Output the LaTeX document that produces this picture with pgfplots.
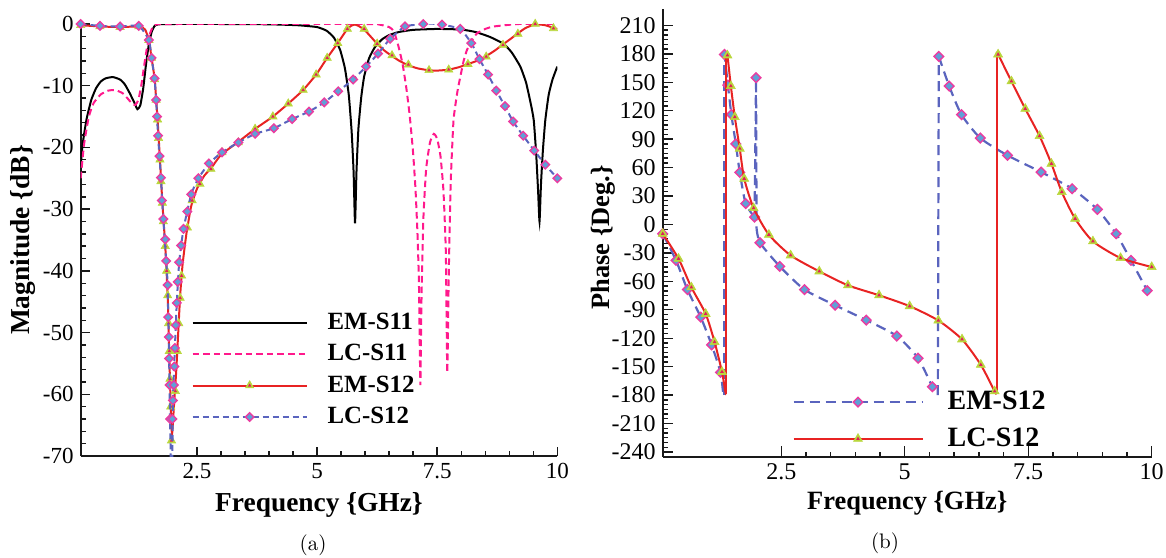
\documentclass[border=0pt]{standalone}
\usepackage{fontspec}
\usepackage{pgfplots}
\usepackage{pgfplotstable}
\pgfplotsset{compat=1.18}
\newfontfamily\tnr{Liberation Serif}

\definecolor{lcpink}{RGB}{255,25,140}
\definecolor{emred}{RGB}{232,35,35}
\definecolor{lcblue}{RGB}{90,100,190}
\definecolor{dfill}{RGB}{95,160,215}
\definecolor{dedge}{RGB}{235,60,160}
\definecolor{tfill}{RGB}{185,215,60}
\definecolor{tin}{RGB}{225,30,90}

% green triangle with a small red triangle inside
\pgfdeclareplotmark{gtri}{%
  \pgfsetlinewidth{0.3pt}%
  \pgfsetfillcolor{tfill}\pgfsetstrokecolor{tfill}%
  \pgfpathmoveto{\pgfpointpolar{90}{\pgfplotmarksize}}%
  \pgfpathlineto{\pgfpointpolar{210}{\pgfplotmarksize}}%
  \pgfpathlineto{\pgfpointpolar{330}{\pgfplotmarksize}}%
  \pgfpathclose\pgfusepathqfillstroke
  \pgfsetfillcolor{tin}%
  \pgfpathmoveto{\pgfpointpolar{90}{0.42\pgfplotmarksize}}%
  \pgfpathlineto{\pgfpointpolar{210}{0.42\pgfplotmarksize}}%
  \pgfpathlineto{\pgfpointpolar{330}{0.42\pgfplotmarksize}}%
  \pgfpathclose\pgfusepathqfill
}

% ---------- (a) magnitude ----------
\pgfplotstableread{
x y
0.08 -23
0.12 -19.5
0.2 -15.5
0.3 -12.3
0.4 -10.4
0.5 -9.3
0.6 -8.8
0.75 -8.6
0.9 -9.0
1.0 -9.8
1.1 -11.2
1.2 -12.8
1.26 -13.8
1.32 -13.2
1.38 -10.5
1.44 -6.5
1.5 -3.2
1.56 -1.2
1.62 -0.3
1.7 -0.05
2.0 0
3.0 0
4.0 -0.05
4.6 -0.2
5.0 -0.5
5.2 -1.1
5.35 -2.2
5.48 -4.2
5.58 -7.2
5.66 -11.5
5.72 -17.5
5.76 -24
5.79 -32.3
5.82 -24
5.86 -17
5.92 -11.8
5.98 -8.5
6.08 -5.6
6.2 -3.8
6.35 -2.5
6.5 -1.8
6.7 -1.3
7.0 -0.95
7.5 -0.8
8.0 -0.9
8.3 -1.3
8.6 -2.1
8.88 -3.2
9.05 -4.6
9.23 -6.9
9.35 -9.5
9.45 -13
9.51 -15.6
9.56 -21
9.6 -27
9.63 -32
9.66 -26
9.7 -20.5
9.75 -15.6
9.82 -11.5
9.9 -9
10.0 -6.9
}\emsA

\pgfplotstableread{
x y
0.08 -25
0.15 -19.5
0.25 -15
0.35 -12.8
0.5 -11.4
0.65 -10.8
0.8 -10.7
0.95 -11.2
1.05 -12.0
1.15 -12.9
1.22 -13.1
1.28 -12.3
1.34 -10
1.4 -6.8
1.46 -3.8
1.52 -1.6
1.58 -0.5
1.66 -0.05
2.0 0
6.0 0
6.3 -0.1
6.5 -0.5
6.6 -1.2
6.7 -3.8
6.78 -6.5
6.86 -10.5
6.93 -15
7.0 -21
7.05 -27
7.09 -34
7.12 -42
7.15 -58.5
7.17 -46
7.21 -32
7.27 -23.5
7.35 -19.2
7.43 -17.8
7.5 -18.6
7.57 -21.5
7.63 -27
7.68 -37
7.71 -56.5
7.74 -41
7.78 -26
7.84 -15.6
7.92 -11
7.98 -8.6
8.05 -6
8.12 -4.2
8.22 -2.7
8.33 -1.5
8.5 -0.8
8.68 -0.4
9.2 0
10 0
}\lcsA

\pgfplotstableread{
x y
0.08 -0.2
0.5 -0.4
0.9 -0.5
1.3 -0.4
1.42 -0.9
1.5 -2.6
1.555 -5.5
1.62 -9.0
1.68 -15.5
1.73 -22
1.78 -29
1.84 -36
1.89 -44
1.92 -52.5
1.95 -61
1.98 -66.5
2.02 -62
2.07 -56
2.11 -50
2.15 -44
2.2 -39
2.28 -34
2.38 -29.5
2.5 -26.7
2.65 -24.6
2.8 -23.3
3.0 -21.2
3.36 -19.1
3.71 -17.0
4.08 -15.0
4.40 -12.9
4.71 -10.7
4.98 -8.2
5.21 -5.5
5.43 -3.1
5.63 -0.8
5.72 -0.25
5.79 -0.1
5.86 -0.3
5.98 -0.9
6.1 -1.9
6.25 -3.2
6.4 -4.3
6.56 -5.2
6.72 -6
6.90 -6.7
7.1 -7.2
7.33 -7.5
7.5 -7.55
7.74 -7.4
7.95 -7.0
8.14 -6.5
8.35 -5.9
8.52 -5.2
8.7 -4.3
8.87 -3.3
9.03 -2.4
9.18 -1.5
9.35 -0.6
9.55 -0.05
9.75 -0.2
9.91 -0.6
10 -0.8
}\emtA

\pgfplotstableread{
x y
0.08 -0.2
0.48 -0.4
0.90 -0.5
1.29 -0.4
1.50 -2.6
1.555 -5.5
1.62 -9.0
1.65 -12.3
1.68 -15.5
1.70 -18.5
1.73 -22
1.75 -25.5
1.78 -29
1.80 -32
1.84 -36
1.87 -40
1.89 -44
1.91 -48.5
1.925 -53
1.94 -57.5
1.955 -62
1.97 -67.5
2.05 -59.5
2.09 -53
2.12 -48.5
2.15 -44.4
2.18 -40.8
2.30 -33
2.40 -28.6
2.56 -25.9
2.79 -23.5
3.02 -20.8
3.36 -19.2
3.71 -17.0
4.08 -15.0
4.40 -12.9
4.71 -10.7
4.98 -8.2
5.21 -5.5
5.43 -3.1
5.63 -0.8
5.98 -0.8
6.25 -3.2
6.56 -5.1
6.90 -6.6
7.33 -7.5
7.74 -7.4
8.14 -6.5
8.52 -5.3
8.87 -3.4
9.18 -1.6
9.54 0
9.92 -0.7
}\emtAm

\pgfplotstableread{
x y
0.08 0
0.48 -0.3
0.90 -0.4
1.29 -0.3
1.50 -2.6
1.555 -5.5
1.617 -8.8
1.65 -12.3
1.67 -15.0
1.69 -18.1
1.72 -21.4
1.75 -24.9
1.77 -28.6
1.80 -31.6
1.84 -34.9
1.86 -38.4
1.89 -42.3
1.90 -47.5
1.915 -50.7
1.92 -54.2
1.93 -58.5
1.94 -64.0
1.99 -64.0
2.00 -61
2.02 -58.5
2.03 -55.5
2.04 -52.5
2.06 -48.8
2.08 -45.2
2.10 -41.8
2.13 -38.6
2.17 -35.9
2.22 -33.2
2.30 -30.4
2.38 -27.6
2.53 -25.0
2.75 -22.6
3.02 -20.8
3.36 -19.2
3.71 -17.8
4.10 -16.9
4.48 -15.4
4.83 -14.2
5.15 -12.7
5.44 -10.9
5.75 -9.0
6.02 -6.9
6.27 -4.8
6.52 -2.4
6.83 -0.4
7.21 0
7.60 -0.1
7.98 -0.8
8.21 -3.1
8.38 -5.7
8.56 -8.2
8.73 -10.8
8.91 -13.3
9.08 -15.8
9.29 -18.1
9.52 -20.5
9.75 -22.8
10.0 -25.0
}\lctAm

\pgfplotstableread{
x y
0.08 0
0.48 -0.3
0.90 -0.4
1.29 -0.3
1.50 -2.6
1.555 -5.5
1.617 -8.8
1.65 -12.3
1.69 -18.1
1.75 -24.9
1.80 -31.6
1.86 -38.4
1.89 -42.3
1.92 -54.2
1.94 -64.0
1.96 -72
1.985 -72
2.00 -61
2.04 -52.5
2.08 -45.2
2.13 -38.6
2.22 -33.2
2.38 -27.6
2.53 -25.0
2.75 -22.6
3.02 -20.8
3.36 -19.2
3.71 -17.8
4.10 -16.9
4.48 -15.4
4.83 -14.2
5.15 -12.7
5.44 -10.9
5.75 -9.0
6.02 -6.9
6.27 -4.8
6.52 -2.4
6.83 -0.4
7.21 0
7.40 0.05
7.60 -0.1
7.98 -0.8
8.21 -3.1
8.38 -5.7
8.56 -8.2
8.73 -10.8
8.91 -13.3
9.08 -15.8
9.29 -18.1
9.52 -20.5
9.75 -22.8
10.0 -25.0
}\lctA

% ---------- (b) phase ----------
\pgfplotstableread{
x y
0.1 -9.8
0.42 -36.1
0.68 -66.3
0.97 -94.3
1.15 -124
1.30 -155.5
1.37 -177
1.385 -179
}\redA
\pgfplotstableread{
x y
1.385 180
1.41 178.4
1.48 146
1.56 113.3
1.66 80
1.75 48.3
1.94 17.3
2.25 -10.8
2.69 -32.6
3.27 -49.5
3.85 -64.2
4.48 -74.7
5.10 -86.2
5.68 -101.3
6.16 -121.2
6.54 -148
6.82 -176
6.86 -179
}\redB
\pgfplotstableread{
x y
6.86 180
6.89 179.4
7.16 151
7.44 122
7.73 93.3
7.97 64.1
8.18 34.2
8.45 6.1
8.81 -17.8
9.37 -35.4
10.0 -44.9
}\redC
\pgfplotstableread{
x y
0.1 -9.8
0.42 -36.1
0.68 -66.3
0.97 -94.3
1.15 -124
1.30 -155.5
1.41 178.4
1.48 146
1.56 113.3
1.66 80
1.75 48.3
1.94 17.3
2.25 -10.8
2.69 -32.6
3.27 -49.5
3.85 -64.2
4.48 -74.7
5.10 -86.2
5.68 -101.3
6.16 -121.2
6.54 -148
6.82 -176
6.89 179.4
7.16 151
7.44 122
7.73 93.3
7.97 64.1
8.18 34.2
8.45 6.1
8.81 -17.8
9.37 -35.4
10.0 -44.9
}\redM

\pgfplotstableread{
x y
0.1 -9.8
0.37 -37.9
0.60 -68.7
0.87 -97.8
1.09 -127
1.27 -156
1.32 -176
1.34 -180
}\bluA
\pgfplotstableread{
x y
1.34 180
1.35 179.4
1.42 147
1.49 116
1.58 85
1.66 55
1.78 22
1.96 7.8
}\bluB
\pgfplotstableread{
x y
2.0 -4
2.07 -19.3
2.47 -44.2
2.97 -68.7
3.59 -85.2
4.22 -100.9
4.84 -117.7
5.27 -141.1
5.56 -171.2
5.67 -180
}\bluC
\pgfplotstableread{
x y
5.69 177.3
5.90 146
6.15 115.8
6.53 91.2
7.08 72.9
7.76 55.3
8.39 37.7
8.90 15.9
9.28 -9.8
9.58 -37.9
9.91 -69.8
10.0 -79
}\bluD
\pgfplotstableread{
x y
1.34 -180
1.34 180
}\bluJa
\pgfplotstableread{
x y
1.96 7.8
1.99 154.8
2.0 -4
}\bluJb
\pgfplotstableread{
x y
5.67 -180
5.69 177.3
}\bluJc
\pgfplotstableread{
x y
0.1 -9.8
0.37 -37.9
0.60 -68.7
0.87 -97.8
1.09 -127
1.27 -156
1.35 179.4
1.42 147
1.49 116
1.58 85
1.66 55
1.78 22
1.96 7.8
1.99 154.8
2.07 -19.3
2.47 -44.2
2.97 -68.7
3.59 -85.2
4.22 -100.9
4.84 -117.7
5.27 -141.1
5.56 -171.2
5.69 177.3
5.90 146
6.15 115.8
6.53 91.2
7.08 72.9
7.76 55.3
8.39 37.7
8.90 15.9
9.28 -9.8
9.58 -37.9
9.91 -69.8
}\bluM

\pgfplotsset{
  panel/.style={
    scale only axis, anchor=south west,
    axis x line=bottom, axis y line=left,
    axis line style={-, line width=1pt, black!90},
    xtick={2.5,5,7.5,10},
    minor x tick num=4,
    tick align=inside,
    major tick length=4.6pt, minor tick length=2.6pt,
    tick style={black!90, line width=0.7pt},
    /pgf/number format/assume math mode=true,
    xlabel={Frequency \{GHz\}},
    clip mode=individual,
    legend cell align=left,
  },
  dmark/.style={mark=square*, mark size=#1,
    mark options={solid, rotate=45, fill=dfill, draw=dedge, line width=0.7pt}},
  tmark/.style={mark=gtri, mark size=#1, mark options={solid}},
}

\begin{document}
\begin{tikzpicture}
\useasboundingbox (0pt,0pt) rectangle (583pt,278.5pt);

\begin{axis}[panel,
  at={(40.35pt,50.5pt)}, width=238.3pt, height=216pt,
  xmin=0.08, xmax=10, ymin=-70, ymax=0,
  ytick={-70,-60,...,0}, minor y tick num=4,
  ticklabel style={font=\tnr\fontsize{11.5}{13}\selectfont},
  ylabel={Magnitude \{dB\}},
  label style={font=\tnr\bfseries\fontsize{13.7}{15}\selectfont},
  xlabel style={at={(axis description cs:0.5,-0.1296)}, anchor=base},
  ylabel style={at={(axis description cs:-0.1211,0.5)}, anchor=center},
  legend style={draw=none, fill=none, inner sep=0pt,
    at={(axis description cs:0.232,0.332)}, anchor=north west,
    row sep=6.0pt, nodes={inner sep=0pt},
    font=\tnr\bfseries\fontsize{12.4}{14}\selectfont,
    /tikz/every odd column/.append style={column sep=10pt}},
  legend image code/.code={\draw[mark repeat=2,mark phase=2,#1]
    plot coordinates {(0pt,0pt) (28.5pt,0pt) (57pt,0pt)};},
]
\addlegendimage{black, line width=1pt}
\addlegendentry{EM-S11}
\addlegendimage{lcpink, line width=1pt, dash pattern=on 3.3pt off 2pt}
\addlegendentry{LC-S11}
\addlegendimage{draw=emred, line width=1pt, tmark=2.4pt}
\addlegendentry{EM-S12}
\addlegendimage{lcblue, line width=1pt, dash pattern=on 3pt off 2pt, dmark=1.5pt}
\addlegendentry{LC-S12}

\addplot[forget plot, black, line width=1pt, smooth, tension=0.3] table {\emsA};
\addplot[forget plot, lcpink, line width=1pt, dash pattern=on 3.3pt off 2pt, smooth, tension=0.3] table {\lcsA};
\addplot[forget plot, emred, line width=1pt, smooth, tension=0.3] table {\emtA};
\addplot[forget plot, only marks, tmark=2.4pt] table {\emtAm};
\addplot[forget plot, lcblue, line width=1pt, dash pattern=on 3pt off 2pt, smooth, tension=0.3] table {\lctA};
\addplot[forget plot, only marks, dmark=1.5pt] table {\lctAm};
\end{axis}

\begin{axis}[panel,
  at={(331.35pt,50.15pt)}, width=244.5pt, height=223.7pt,
  xmin=0.1, xmax=10, ymin=-245, ymax=227,
  ytick={-240,-210,...,210}, minor y tick num=5,
  major tick length=5.2pt,
  ticklabel style={font=\tnr\fontsize{12}{13}\selectfont},
  ylabel={Phase \{Deg.\}},
  label style={font=\tnr\bfseries\fontsize{13.2}{15}\selectfont},
  xlabel style={at={(axis description cs:0.5,-0.1191)}, anchor=base},
  ylabel style={at={(axis description cs:-0.1221,0.49)}, anchor=center},
  legend style={draw=none, fill=none, inner sep=0pt,
    at={(axis description cs:0.2644,0.147)}, anchor=north west,
    row sep=7.6pt, nodes={inner sep=0pt},
    font=\tnr\bfseries\fontsize{14}{15}\selectfont,
    /tikz/every odd column/.append style={column sep=12pt}},
  legend image code/.code={\draw[mark repeat=2,mark phase=2,#1]
    plot coordinates {(0pt,0pt) (32.25pt,0pt) (64.5pt,0pt)};},
]
\addlegendimage{lcblue, line width=1.1pt, dash pattern=on 5pt off 3pt, dmark=1.7pt}
\addlegendentry{EM-S12}
\addlegendimage{draw=emred, line width=1pt, tmark=2.6pt}
\addlegendentry{LC-S12}

\pgfplotsset{bl/.style={forget plot, lcblue, line width=1.1pt, dash pattern=on 5pt off 3pt}}
\addplot[bl, smooth, tension=0.4] table {\bluA};
\addplot[bl] table {\bluJa};
\addplot[bl, smooth, tension=0.4] table {\bluB};
\addplot[bl] table {\bluJb};
\addplot[bl, smooth, tension=0.4] table {\bluC};
\addplot[bl] table {\bluJc};
\addplot[bl, smooth, tension=0.4] table {\bluD};
\addplot[forget plot, only marks, dmark=1.7pt] table {\bluM};

\pgfplotsset{rl/.style={forget plot, emred, line width=1pt}}
\addplot[rl, smooth, tension=0.4] table {\redA};
\addplot[rl] coordinates {(1.385,-179) (1.385,180)};
\addplot[rl, smooth, tension=0.4] table {\redB};
\addplot[rl] coordinates {(6.86,-179) (6.86,180)};
\addplot[rl, smooth, tension=0.4] table {\redC};
\addplot[forget plot, only marks, tmark=2.6pt] table {\redM};
\end{axis}

\node[font=\fontsize{10.5}{12}\selectfont] at (156.5pt,6pt) {(a)};
\node[font=\fontsize{10.5}{12}\selectfont] at (442.5pt,7pt) {(b)};
\end{tikzpicture}
\end{document}
